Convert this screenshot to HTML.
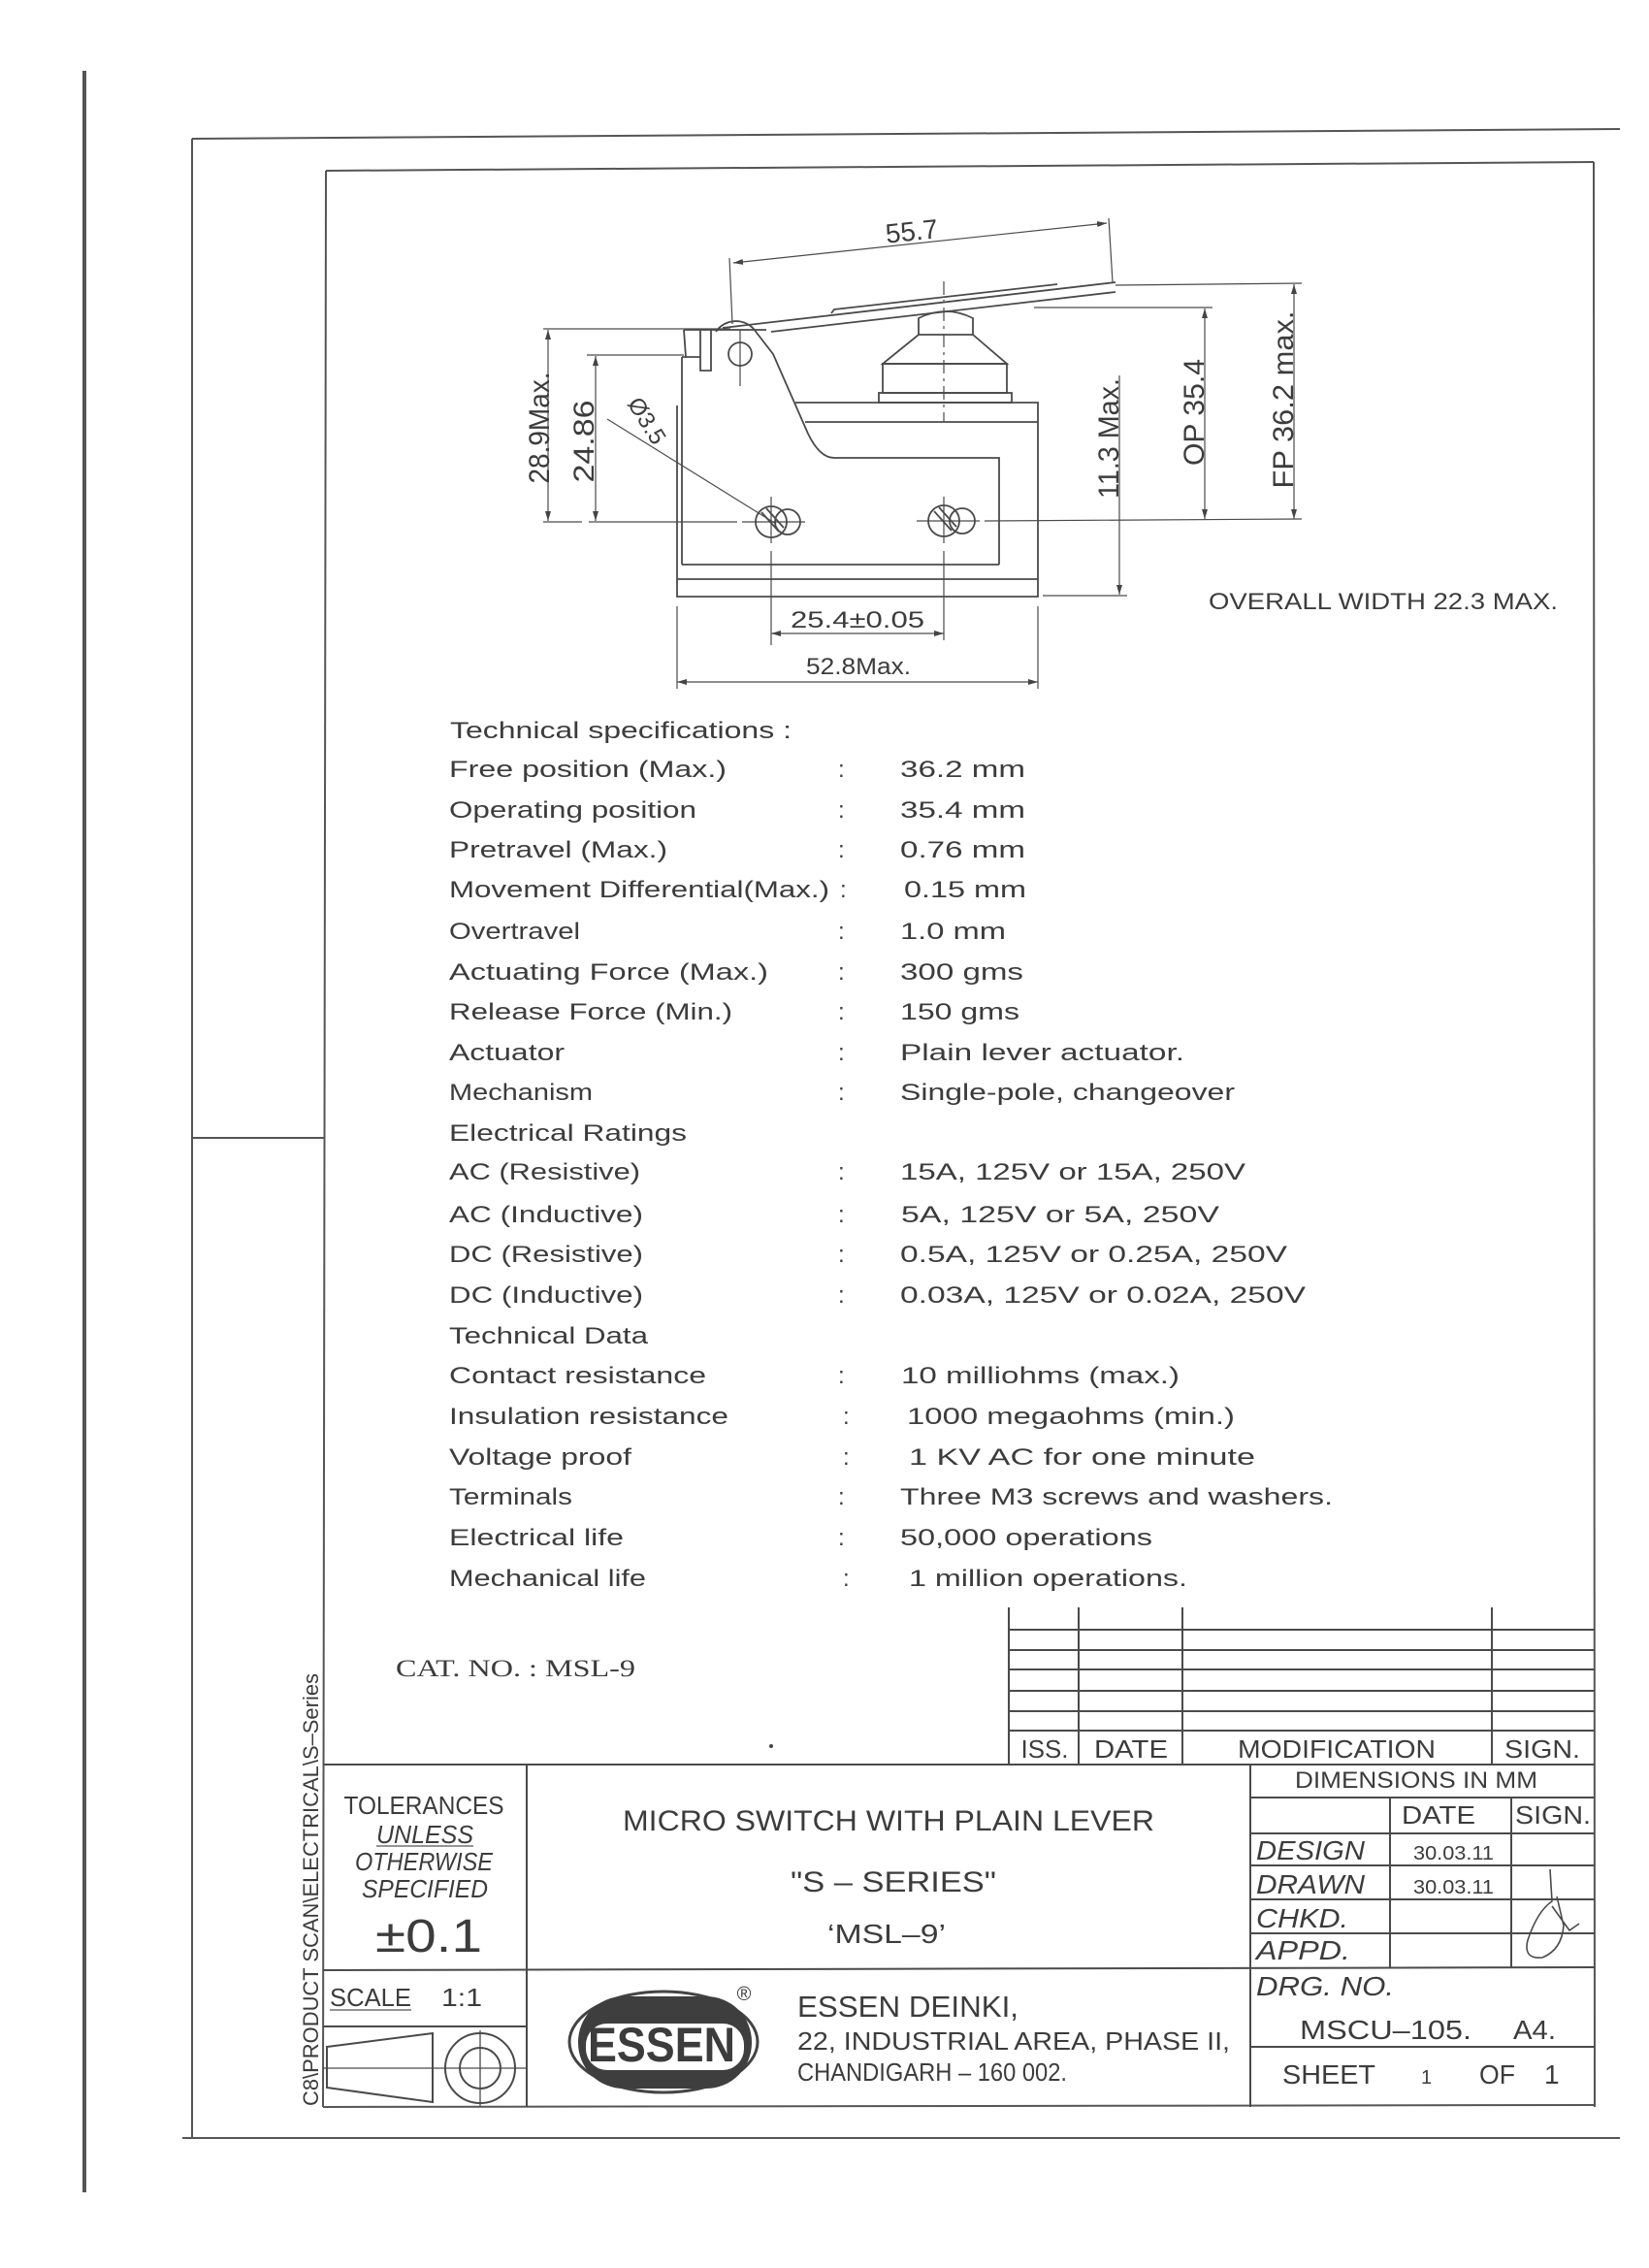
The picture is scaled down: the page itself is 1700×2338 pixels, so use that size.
<!DOCTYPE html>
<html><head><meta charset="utf-8"><style>
html,body{margin:0;padding:0;background:#fff}
svg{display:block}
text{font-family:"Liberation Sans",sans-serif;fill:#3c3c3c}
</style></head><body>
<svg width="1700" height="2338" viewBox="0 0 1700 2338" xmlns="http://www.w3.org/2000/svg">
<defs>
<marker id="a" viewBox="0 0 10 6" refX="10" refY="3" markerWidth="10" markerHeight="6" orient="auto-start-reverse" markerUnits="userSpaceOnUse"><path d="M0,0 L10,3 L0,6 z" fill="#444"/></marker>
</defs>
<rect width="1700" height="2338" fill="#fff"/>
<line x1="87" y1="73" x2="87" y2="2260" stroke="#555" stroke-width="4"/>
<g stroke="#555" stroke-width="2" fill="none">
<line x1="198" y1="143" x2="1670" y2="133"/>
<line x1="198" y1="143" x2="198" y2="2204"/>
<line x1="188" y1="2204" x2="1670" y2="2204"/>
<line x1="198" y1="1173" x2="335" y2="1173"/>
<line x1="336" y1="176" x2="1643" y2="167"/>
<line x1="336" y1="176" x2="333" y2="2172"/>
<line x1="1643" y1="167" x2="1644" y2="2172"/>
<line x1="333" y1="2172" x2="1644" y2="2170"/>
</g>

<g stroke="#4a4a4a" stroke-width="1.8" fill="none">
<line x1="745" y1="338" x2="1150" y2="291"/>
<line x1="795" y1="342" x2="1150" y2="301"/>
<path d="M857,323 L860,319 L1090,293"/>
<path d="M738,342 A25,25 0 0 1 780,343 L797,365 L833,447 Q845,472 860,472 L1030,472 L1030,582"/>
<circle cx="763" cy="365" r="12"/>
<line x1="763" y1="340" x2="763" y2="398" stroke-width="1.2"/>
<path d="M705,340 L707,368 M722,340 L722,382 L733,382 L733,340 M705,340 L790,340"/>
<path d="M703,368 L722,368 M703,368 L703,582"/>
<path d="M698,418 L698,615 L1070,615 L1070,415 L820,415"/>
<line x1="703" y1="582" x2="1030" y2="582"/>
<line x1="698" y1="597" x2="1070" y2="597"/>
<line x1="830" y1="435" x2="1070" y2="435"/>
<path d="M947,345 L947,328 Q975,314 1003,328 L1003,345"/>
<path d="M947,345 L1003,345 L1038,375 L910,375 Z"/>
<rect x="910" y="375" width="128" height="30"/>
<rect x="906" y="405" width="137" height="10"/>
<line x1="973" y1="290" x2="973" y2="435" stroke-width="1.2" stroke-dasharray="14,5,3,5"/>
<circle cx="795" cy="538" r="16"/><circle cx="812" cy="538" r="13"/>
<line x1="785" y1="528" x2="803" y2="548"/><line x1="790" y1="524" x2="808" y2="544"/>
<circle cx="973" cy="537" r="16"/><circle cx="992" cy="537" r="13"/>
<line x1="963" y1="527" x2="981" y2="547"/><line x1="968" y1="523" x2="986" y2="543"/>
<g stroke-width="1.2">
<line x1="795" y1="512" x2="795" y2="560"/>
<line x1="973" y1="512" x2="973" y2="560"/>
<line x1="560" y1="538" x2="600" y2="538"/><line x1="607" y1="538" x2="760" y2="538"/><line x1="765" y1="538" x2="830" y2="538"/>
<line x1="945" y1="537" x2="1010" y2="537"/><line x1="1015" y1="537" x2="1342" y2="535"/>
<line x1="560" y1="339" x2="753" y2="339"/>
<line x1="605" y1="366" x2="705" y2="366"/>
<line x1="1150" y1="294" x2="1342" y2="292"/>
<line x1="1066" y1="317" x2="1250" y2="317"/>
<line x1="1075" y1="614" x2="1162" y2="614"/>
<line x1="795" y1="568" x2="795" y2="665"/>
<line x1="973" y1="568" x2="973" y2="660"/>
<line x1="698" y1="625" x2="698" y2="710"/>
<line x1="1070" y1="625" x2="1070" y2="710"/>
<line x1="752" y1="266" x2="755" y2="334"/>
<line x1="1143" y1="225" x2="1147" y2="291"/>
<line x1="565" y1="340" x2="565" y2="537" marker-start="url(#a)" marker-end="url(#a)"/>
<line x1="614" y1="367" x2="614" y2="537" marker-start="url(#a)" marker-end="url(#a)"/>
<line x1="1154" y1="387" x2="1154" y2="613" marker-end="url(#a)"/>
<line x1="1242" y1="318" x2="1242" y2="535" marker-start="url(#a)" marker-end="url(#a)"/>
<line x1="1334" y1="293" x2="1334" y2="535" marker-start="url(#a)" marker-end="url(#a)"/>
<line x1="756" y1="271" x2="1141" y2="230" marker-start="url(#a)" marker-end="url(#a)"/>
<line x1="795" y1="653" x2="973" y2="653" marker-start="url(#a)" marker-end="url(#a)"/>
<line x1="698" y1="703" x2="1070" y2="703" marker-start="url(#a)" marker-end="url(#a)"/>
<line x1="626" y1="432" x2="800" y2="540"/>
</g>
</g>
<g font-size="24" fill="#444">
<text x="940" y="248" text-anchor="middle" font-size="28" transform="rotate(-6 940 240)" textLength="54" lengthAdjust="spacingAndGlyphs">55.7</text>
<text transform="translate(566 441) rotate(-90)" text-anchor="middle" font-size="30" textLength="115" lengthAdjust="spacingAndGlyphs">28.9Max.</text>
<text transform="translate(612 455) rotate(-90)" text-anchor="middle" font-size="30" textLength="85" lengthAdjust="spacingAndGlyphs">24.86</text>
<text transform="translate(1153 452) rotate(-90)" text-anchor="middle" font-size="30" textLength="124" lengthAdjust="spacingAndGlyphs">11.3 Max.</text>
<text transform="translate(1241 425) rotate(-90)" text-anchor="middle" font-size="30" textLength="110" lengthAdjust="spacingAndGlyphs">OP 35.4</text>
<text transform="translate(1333 412) rotate(-90)" text-anchor="middle" font-size="30" textLength="183" lengthAdjust="spacingAndGlyphs">FP 36.2 max.</text>
<text transform="translate(660 438) rotate(58)" text-anchor="middle" font-size="24">Ø3.5</text>
<text x="884" y="647" text-anchor="middle" font-size="24" textLength="138" lengthAdjust="spacingAndGlyphs">25.4±0.05</text>
<text x="885" y="695" text-anchor="middle" font-size="24" textLength="108" lengthAdjust="spacingAndGlyphs">52.8Max.</text>
<text x="1246" y="628" font-size="24" textLength="360" lengthAdjust="spacingAndGlyphs">OVERALL WIDTH 22.3 MAX.</text>
</g>

<g font-size="24">
<text x="464" y="761" textLength="352" lengthAdjust="spacingAndGlyphs">Technical specifications :</text>
<text x="463" y="801" textLength="286" lengthAdjust="spacingAndGlyphs">Free position (Max.)</text>
<text x="463" y="843" textLength="255" lengthAdjust="spacingAndGlyphs">Operating position</text>
<text x="463" y="884" textLength="225" lengthAdjust="spacingAndGlyphs">Pretravel (Max.)</text>
<text x="463" y="925" textLength="392" lengthAdjust="spacingAndGlyphs">Movement Differential(Max.)</text>
<text x="463" y="968" textLength="135" lengthAdjust="spacingAndGlyphs">Overtravel</text>
<text x="463" y="1010" textLength="329" lengthAdjust="spacingAndGlyphs">Actuating Force (Max.)</text>
<text x="463" y="1051" textLength="292" lengthAdjust="spacingAndGlyphs">Release Force (Min.)</text>
<text x="463" y="1093" textLength="119" lengthAdjust="spacingAndGlyphs">Actuator</text>
<text x="463" y="1134" textLength="148" lengthAdjust="spacingAndGlyphs">Mechanism</text>
<text x="463" y="1176" textLength="245" lengthAdjust="spacingAndGlyphs">Electrical Ratings</text>
<text x="463" y="1216" textLength="197" lengthAdjust="spacingAndGlyphs">AC (Resistive)</text>
<text x="463" y="1260" textLength="200" lengthAdjust="spacingAndGlyphs">AC (Inductive)</text>
<text x="463" y="1301" textLength="200" lengthAdjust="spacingAndGlyphs">DC (Resistive)</text>
<text x="463" y="1343" textLength="200" lengthAdjust="spacingAndGlyphs">DC (Inductive)</text>
<text x="463" y="1385" textLength="205" lengthAdjust="spacingAndGlyphs">Technical Data</text>
<text x="463" y="1426" textLength="265" lengthAdjust="spacingAndGlyphs">Contact resistance</text>
<text x="463" y="1468" textLength="288" lengthAdjust="spacingAndGlyphs">Insulation resistance</text>
<text x="463" y="1510" textLength="188" lengthAdjust="spacingAndGlyphs">Voltage proof</text>
<text x="463" y="1551" textLength="127" lengthAdjust="spacingAndGlyphs">Terminals</text>
<text x="463" y="1593" textLength="180" lengthAdjust="spacingAndGlyphs">Electrical life</text>
<text x="463" y="1635" textLength="203" lengthAdjust="spacingAndGlyphs">Mechanical life</text>

<text x="864" y="801">:</text><text x="864" y="843">:</text><text x="864" y="884">:</text>
<text x="866" y="925">:</text><text x="864" y="968">:</text><text x="864" y="1010">:</text>
<text x="864" y="1051">:</text><text x="864" y="1093">:</text><text x="864" y="1134">:</text>
<text x="864" y="1216">:</text><text x="864" y="1260">:</text><text x="864" y="1301">:</text>
<text x="864" y="1343">:</text><text x="864" y="1426">:</text><text x="869" y="1468">:</text>
<text x="869" y="1510">:</text><text x="864" y="1551">:</text><text x="864" y="1593">:</text>
<text x="869" y="1635">:</text>

<text x="928" y="801" textLength="129" lengthAdjust="spacingAndGlyphs">36.2 mm</text>
<text x="928" y="843" textLength="129" lengthAdjust="spacingAndGlyphs">35.4 mm</text>
<text x="928" y="884" textLength="129" lengthAdjust="spacingAndGlyphs">0.76 mm</text>
<text x="932" y="925" textLength="126" lengthAdjust="spacingAndGlyphs">0.15 mm</text>
<text x="928" y="968" textLength="109" lengthAdjust="spacingAndGlyphs">1.0 mm</text>
<text x="928" y="1010" textLength="127" lengthAdjust="spacingAndGlyphs">300 gms</text>
<text x="928" y="1051" textLength="123" lengthAdjust="spacingAndGlyphs">150 gms</text>
<text x="928" y="1093" textLength="293" lengthAdjust="spacingAndGlyphs">Plain lever actuator.</text>
<text x="928" y="1134" textLength="345" lengthAdjust="spacingAndGlyphs">Single-pole, changeover</text>
<text x="928" y="1216" textLength="356" lengthAdjust="spacingAndGlyphs">15A, 125V or 15A, 250V</text>
<text x="929" y="1260" textLength="328" lengthAdjust="spacingAndGlyphs">5A, 125V or 5A, 250V</text>
<text x="928" y="1301" textLength="399" lengthAdjust="spacingAndGlyphs">0.5A, 125V or 0.25A, 250V</text>
<text x="928" y="1343" textLength="418" lengthAdjust="spacingAndGlyphs">0.03A, 125V or 0.02A, 250V</text>
<text x="929" y="1426" textLength="287" lengthAdjust="spacingAndGlyphs">10 milliohms (max.)</text>
<text x="935" y="1468" textLength="338" lengthAdjust="spacingAndGlyphs">1000 megaohms (min.)</text>
<text x="937" y="1510" textLength="357" lengthAdjust="spacingAndGlyphs">1 KV AC for one minute</text>
<text x="928" y="1551" textLength="446" lengthAdjust="spacingAndGlyphs">Three M3 screws and washers.</text>
<text x="928" y="1593" textLength="260" lengthAdjust="spacingAndGlyphs">50,000 operations</text>
<text x="937" y="1635" textLength="287" lengthAdjust="spacingAndGlyphs">1 million operations.</text>
</g>

<g stroke="#4a4a4a" stroke-width="2" fill="none">
<line x1="1040" y1="1657" x2="1040" y2="1819"/>
<line x1="1112" y1="1657" x2="1112" y2="1819"/>
<line x1="1219" y1="1657" x2="1219" y2="1819"/>
<line x1="1538" y1="1657" x2="1538" y2="1819"/>
<line x1="1040" y1="1680" x2="1644" y2="1680"/>
<line x1="1040" y1="1701" x2="1644" y2="1701"/>
<line x1="1040" y1="1721" x2="1644" y2="1721"/>
<line x1="1040" y1="1743" x2="1644" y2="1743"/>
<line x1="1040" y1="1764" x2="1644" y2="1764"/>
<line x1="1040" y1="1784" x2="1644" y2="1784"/>
<line x1="333" y1="1819" x2="1644" y2="1819"/>
<line x1="543" y1="1819" x2="543" y2="2172"/>
<line x1="333" y1="2031" x2="1644" y2="2028"/>
<line x1="333" y1="2089" x2="543" y2="2089"/>
<line x1="1289" y1="1819" x2="1289" y2="2172"/>
<line x1="1289" y1="1853" x2="1644" y2="1853"/>
<line x1="1289" y1="1890" x2="1644" y2="1890"/>
<line x1="1289" y1="1923" x2="1644" y2="1923"/>
<line x1="1289" y1="1958" x2="1644" y2="1958"/>
<line x1="1289" y1="1993" x2="1644" y2="1993"/>
<line x1="1289" y1="2110" x2="1644" y2="2110"/>
<line x1="1433" y1="1853" x2="1433" y2="2028"/>
<line x1="1558" y1="1853" x2="1558" y2="2028"/>
<path d="M337,2110 L446,2096 L446,2167 L337,2152 Z"/>
<line x1="333" y1="2132" x2="543" y2="2132" stroke-width="1.3"/>
<circle cx="495" cy="2132" r="36"/>
<circle cx="495" cy="2132" r="21"/>
<line x1="495" y1="2093" x2="495" y2="2172" stroke-width="1.3"/>
<path d="M1598,1927 L1600,1960 Q1585,1970 1575,2000 Q1570,2020 1590,2018 Q1610,2010 1612,1985 L1605,1955 M1600,1965 L1618,1990 L1628,1983" stroke-width="1.6"/>
</g>
<g font-size="26">
<text x="1077" y="1812" text-anchor="middle" textLength="49" lengthAdjust="spacingAndGlyphs">ISS.</text>
<text x="1166" y="1812" text-anchor="middle" textLength="76" lengthAdjust="spacingAndGlyphs">DATE</text>
<text x="1378" y="1812" text-anchor="middle" textLength="204" lengthAdjust="spacingAndGlyphs">MODIFICATION</text>
<text x="1590" y="1812" text-anchor="middle" textLength="78" lengthAdjust="spacingAndGlyphs">SIGN.</text>
<text x="1460" y="1843" text-anchor="middle" font-size="24" textLength="250" lengthAdjust="spacingAndGlyphs">DIMENSIONS IN MM</text>
<text x="1483" y="1880" text-anchor="middle" textLength="76" lengthAdjust="spacingAndGlyphs">DATE</text>
<text x="1601" y="1880" text-anchor="middle" textLength="78" lengthAdjust="spacingAndGlyphs">SIGN.</text>
<g font-style="italic" font-size="28">
<text x="1295" y="1917" textLength="112" lengthAdjust="spacingAndGlyphs">DESIGN</text>
<text x="1295" y="1952" textLength="112" lengthAdjust="spacingAndGlyphs">DRAWN</text>
<text x="1295" y="1987" textLength="95" lengthAdjust="spacingAndGlyphs">CHKD.</text>
<text x="1295" y="2020" textLength="97" lengthAdjust="spacingAndGlyphs">APPD.</text>
<text x="1295" y="2057" textLength="142" lengthAdjust="spacingAndGlyphs">DRG. NO.</text>
</g>
<text x="1457" y="1917" font-size="20" textLength="83" lengthAdjust="spacingAndGlyphs">30.03.11</text>
<text x="1457" y="1952" font-size="20" textLength="83" lengthAdjust="spacingAndGlyphs">30.03.11</text>
<text x="1340" y="2102" font-size="28" textLength="177" lengthAdjust="spacingAndGlyphs">MSCU–105.</text>
<text x="1560" y="2102" font-size="28" textLength="44" lengthAdjust="spacingAndGlyphs">A4.</text>
<text x="1322" y="2148" font-size="28" textLength="96" lengthAdjust="spacingAndGlyphs">SHEET</text>
<text x="1465" y="2148" font-size="20">1</text>
<text x="1525" y="2148" font-size="28" textLength="37" lengthAdjust="spacingAndGlyphs">OF</text>
<text x="1592" y="2148" font-size="28">1</text>

<text x="437" y="1870" text-anchor="middle" textLength="165" lengthAdjust="spacingAndGlyphs">TOLERANCES</text>
<text x="438" y="1900" text-anchor="middle" font-style="italic" textLength="100" lengthAdjust="spacingAndGlyphs">UNLESS</text>
<line x1="388" y1="1903" x2="488" y2="1903" stroke="#555" stroke-width="1.2"/>
<text x="437" y="1928" text-anchor="middle" font-style="italic" textLength="142" lengthAdjust="spacingAndGlyphs">OTHERWISE</text>
<text x="438" y="1956" text-anchor="middle" font-style="italic" textLength="130" lengthAdjust="spacingAndGlyphs">SPECIFIED</text>
<text x="442" y="2012" text-anchor="middle" font-size="48" textLength="110" lengthAdjust="spacingAndGlyphs">±0.1</text>
<text x="340" y="2068" textLength="84" lengthAdjust="spacingAndGlyphs">SCALE</text>
<line x1="340" y1="2072" x2="424" y2="2072" stroke="#555" stroke-width="1.2"/>
<text x="455" y="2068" textLength="42" lengthAdjust="spacingAndGlyphs">1:1</text>

<text x="642" y="1887" font-size="30" textLength="548" lengthAdjust="spacingAndGlyphs">MICRO SWITCH WITH PLAIN LEVER</text>
<text x="815" y="1950" font-size="30" textLength="212" lengthAdjust="spacingAndGlyphs">"S – SERIES"</text>
<text x="853" y="2003" font-size="28" textLength="122" lengthAdjust="spacingAndGlyphs">‘MSL–9’</text>
<text x="822" y="2079" font-size="31" textLength="228" lengthAdjust="spacingAndGlyphs">ESSEN DEINKI,</text>
<text x="822" y="2113" font-size="26" textLength="446" lengthAdjust="spacingAndGlyphs">22, INDUSTRIAL AREA, PHASE II,</text>
<text x="822" y="2145" font-size="26" textLength="278" lengthAdjust="spacingAndGlyphs">CHANDIGARH – 160 002.</text>
</g>
<ellipse cx="684" cy="2105" rx="97" ry="52" fill="#fff" stroke="#444" stroke-width="3"/>
<rect x="596" y="2058" width="179" height="95" rx="47" fill="#3e3e3e"/>
<rect x="604" y="2086" width="163" height="48" rx="22" fill="#fff"/>
<text x="682" y="2125" text-anchor="middle" font-size="50" font-weight="bold" fill="#3e3e3e" textLength="152" lengthAdjust="spacingAndGlyphs">ESSEN</text>
<text x="767" y="2062" text-anchor="middle" font-size="20">®</text>

<text x="408" y="1728" font-size="25" style="font-family:'Liberation Serif',serif" textLength="247" lengthAdjust="spacingAndGlyphs">CAT. NO. : MSL-9</text>
<circle cx="795" cy="1800" r="2" fill="#444"/>
<text transform="translate(328 2171) rotate(-90)" font-size="22" textLength="446" lengthAdjust="spacingAndGlyphs">C8\PRODUCT SCAN\ELECTRICAL\S–Series</text>
</svg>
</body></html>
